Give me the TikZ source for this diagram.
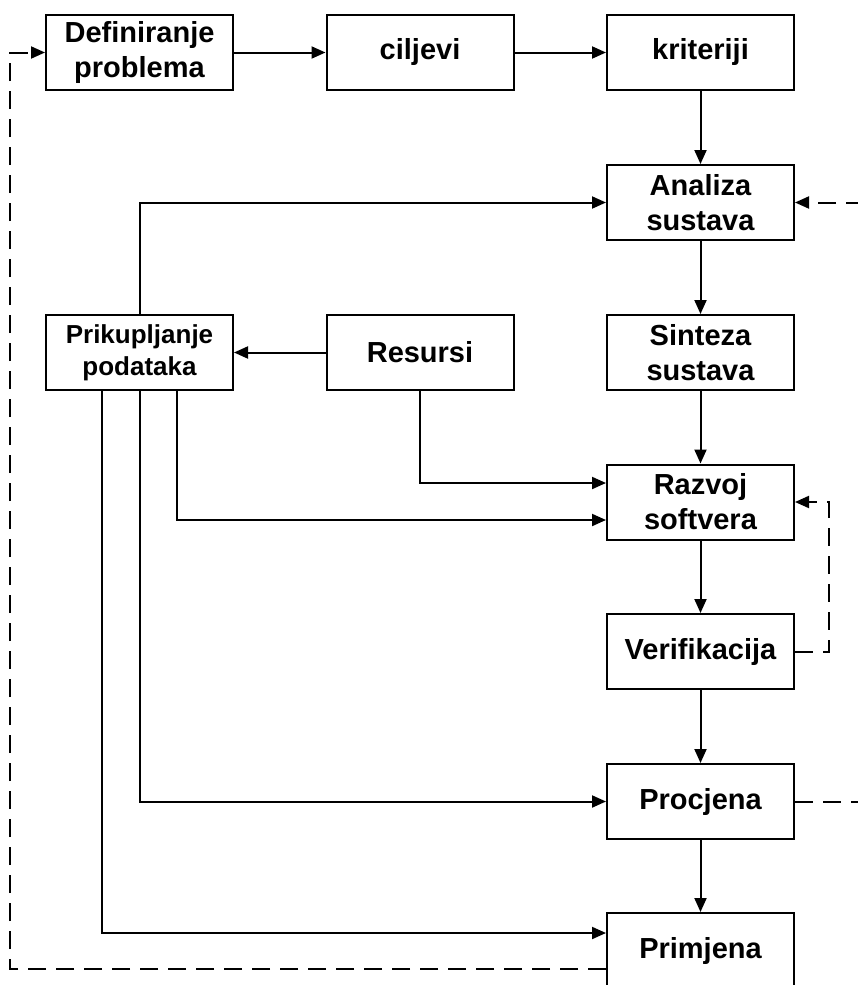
\documentclass[tikz,border=0pt]{standalone}
\usepackage{fontspec}
\setmainfont{Liberation Sans}
\usetikzlibrary{arrows.meta}
\begin{document}
\begin{tikzpicture}[x=1pt,y=-1pt,
  box/.style={draw, line width=2pt, minimum width=187pt, minimum height=75pt, inner sep=0pt, align=center, font=\fontsize{29}{35}\selectfont\bfseries},
  smallbox/.style={box, font=\fontsize{26}{32}\selectfont\bfseries},
  tip/.style={-{Triangle[length=14pt,width=12pt]}},
  con/.style={line width=2pt, tip},
  dsh/.style={line width=2pt, dash pattern=on 18pt off 10pt}]
\useasboundingbox (0,0) rectangle (858,985);
\fill[white] (0,0) rectangle (858,985);
\clip (0,0) rectangle (858,985);

\node[box] (def) at (139.5,52.5) {Definiranje\\problema};
\node[box] (cil) at (420,52.5) {ciljevi};
\node[box] (kri) at (700.5,52.5) {kriteriji};
\node[box] (ana) at (700.5,202.5) {Analiza\\sustava};
\node[box] (sin) at (700.5,352.5) {Sinteza\\sustava};
\node[box] (raz) at (700.5,502) {Razvoj\\softvera};
\node[box] (ver) at (700.5,651.5) {Verifikacija};
\node[box] (pro) at (700.5,801.5) {Procjena};
\node[box] (pri) at (700.5,950.5) {Primjena};
\node[smallbox] (pod) at (139.5,352.5) {Prikupljanje\\podataka};
\node[box] (res) at (420,352.5) {Resursi};

\draw[con] (def) -- (cil);
\draw[con] (cil) -- (kri);
\draw[con] (kri) -- (ana);
\draw[con] (ana) -- (sin);
\draw[con] (sin) -- (raz);
\draw[con] (raz) -- (ver);
\draw[con] (ver) -- (pro);
\draw[con] (pro) -- (pri);

\draw[con] (pod.north) |- (ana.west);
\draw[con] (res) -- (pod);
\draw[con] (res.south) |- ([yshift=19pt]raz.west);
\draw[con] ([xshift=37.5pt]pod.south) |- ([yshift=-18pt]raz.west);
\draw[con] (pod.south) |- (pro.west);
\draw[con] ([xshift=-37.5pt]pod.south) |- ([yshift=17.5pt]pri.west);

\coordinate (fbl) at (10,969);
\coordinate (ftl) at (10,52.5);
\draw[dsh, tip] ([yshift=-18.5pt]pri.west) -- (fbl) -- (ftl) -- (def.west);

\coordinate (frb) at (880,801.5);
\coordinate (frt) at (880,202.5);
\draw[dsh, tip] (pro.east) -- (frb) -- (frt) -- (ana.east);

\coordinate (vrb) at (829,651.5);
\coordinate (vrt) at (829,502);
\draw[dsh, tip] (ver.east) -- (vrb) -- (vrt) -- (raz.east);
\end{tikzpicture}
\end{document}
